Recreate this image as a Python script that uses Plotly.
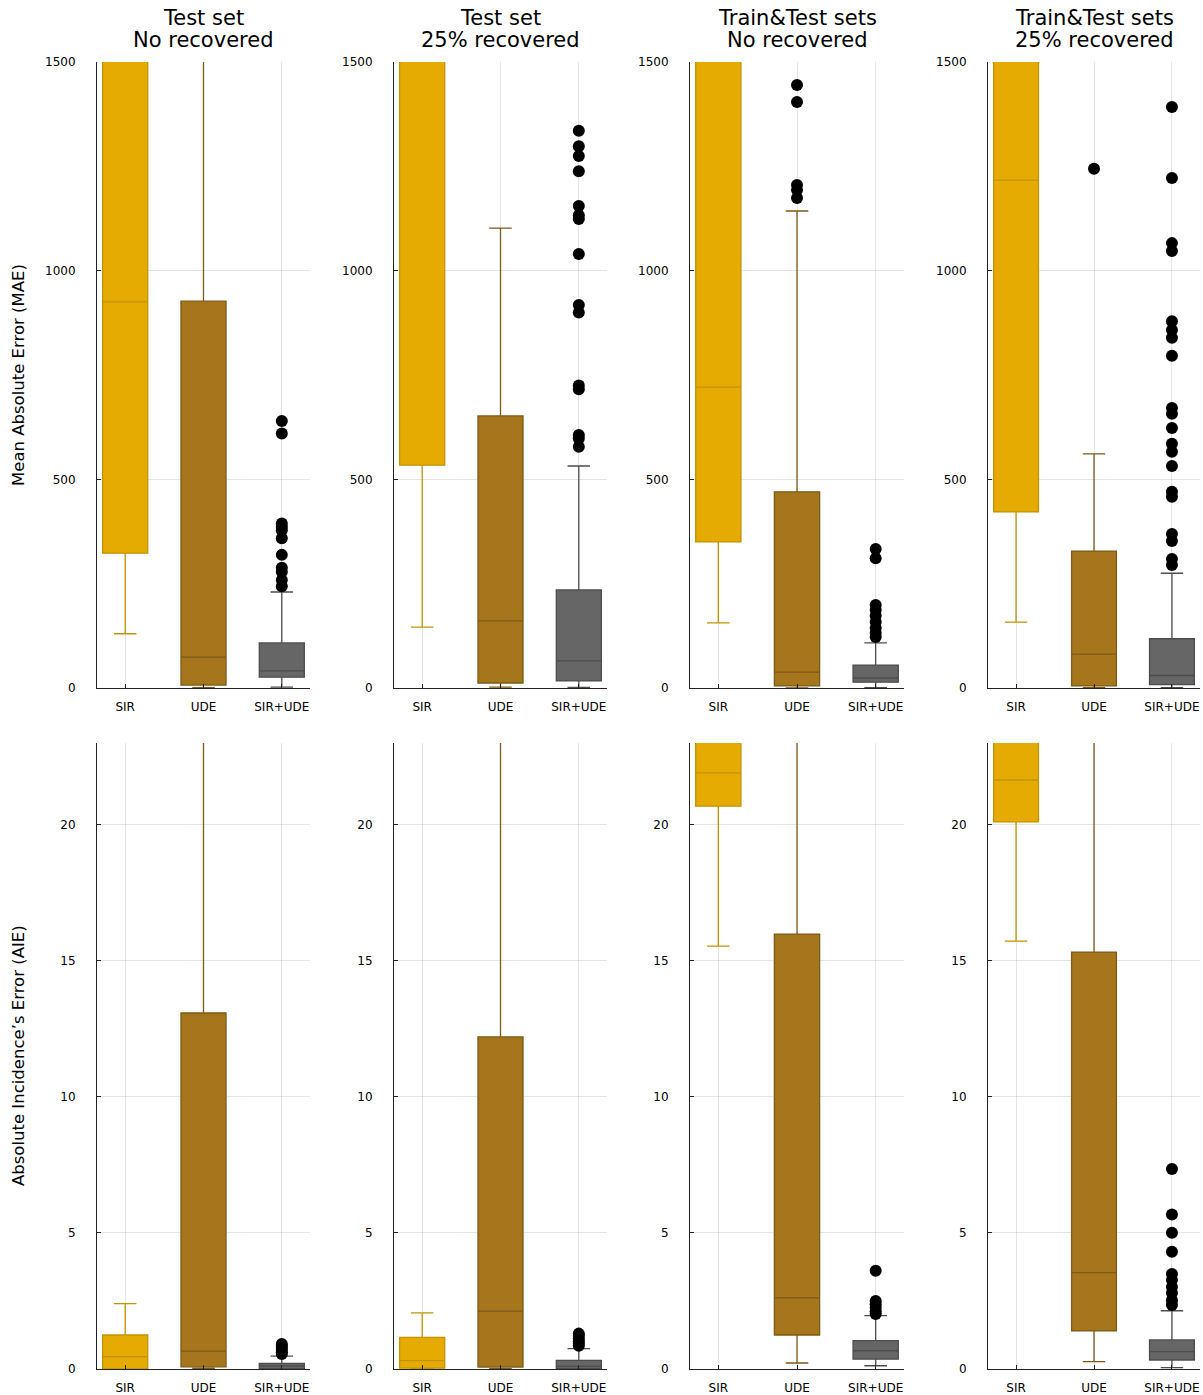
import plotly.graph_objects as go
from plotly.subplots import make_subplots

CATEGORIES = ["SIR", "UDE", "SIR+UDE"]
PANEL_TITLES = [("Test set", "No recovered"), ("Test set", "25% recovered"),
                ("Train&Test sets", "No recovered"), ("Train&Test sets", "25% recovered")]
ROW_TITLES = ["Mean Absolute Error (MAE)", "Absolute Incidence’s Error (AIE)"]

# ---- MAE (top row): per panel, values for [SIR, UDE, SIR+UDE]
MAE_Q1 = [[323, 7, 26], [534, 12, 17], [350, 5, 14], [422, 5, 8]]
MAE_MED = [[925, 74, 41], [2100, 161, 65], [721, 38, 24], [1217, 81, 30]]
MAE_Q3 = [[2400, 927, 108], [3200, 652, 235], [2200, 470, 55], [2600, 328, 118]]
MAE_LO = [[130, 1, 2], [146, 2, 1.5], [156, 0.5, 1], [158, 1, 1]]
MAE_HI = [[4500, 2600, 230], [5500, 1102, 532], [4200, 1143, 108], [5000, 561, 275]]
MAE_OUT_UDE = [[], [], [1445, 1404, 1205, 1193, 1174], [1244]]
MAE_OUT_SIRUDE = [
    [640, 610, 394, 386, 378, 359, 319, 288, 278, 259, 244],
    [1335, 1298, 1275, 1238, 1155, 1133, 1124, 1040, 918, 900, 725, 716, 606, 598, 578],
    [333, 311, 199, 187, 173, 158, 144, 132, 122],
    [1392, 1222, 1066, 1047, 879, 858, 839, 796, 671, 657, 623, 585, 566, 532, 470, 458,
     369, 352, 309, 295],
]

# ---- AIE (bottom row)
AIE_Q1 = [[0.0, 0.08, 0.01], [0.03, 0.07, 0.01], [20.68, 1.25, 0.36], [20.1, 1.40, 0.33]]
AIE_MED = [[0.45, 0.66, 0.11], [0.31, 2.13, 0.10], [21.9, 2.61, 0.67], [21.64, 3.54, 0.64]]
AIE_Q3 = [[1.25, 13.08, 0.21], [1.16, 12.2, 0.32], [26, 15.98, 1.04], [25, 15.32, 1.07]]
AIE_LO = [[0.0, 0.02, 0.0], [0.0, 0.01, 0.0], [15.54, 0.22, 0.12], [15.72, 0.27, 0.05]]
AIE_HI = [[2.40, 30, 0.47], [2.06, 30, 0.75], [35, 32, 1.96], [34, 31, 2.14]]
AIE_OUT_UDE = [[], [], [], []]
AIE_OUT_SIRUDE = [
    [0.92, 0.85, 0.78, 0.70, 0.62, 0.55],
    [1.30, 1.22, 1.12, 1.02, 0.93, 0.85],
    [3.61, 2.50, 2.38, 2.25, 2.12, 2.02],
    [7.35, 5.68, 5.01, 4.31, 3.49, 3.27, 3.01, 2.79, 2.53, 2.35],
]

Y_RANGES = [[0, 1500], [0, 23]]
Y_TICKS = [[0, 500, 1000, 1500], [0, 5, 10, 15, 20]]

FILL = ["#e6ab02", "#a6761d", "#666666"]
EDGE = ["#c49300", "#7d5a16", "#4d4d4d"]

FONT = "DejaVu Sans"
W, H = 1203, 1395
X_DOM_PX = [(97, 310), (394, 607), (690, 904), (988, 1200)]
Y_DOM_PX = [(62, 688), (743, 1369)]


def fx(px):
    return px / W


def fy(py):
    return 1 - py / H


fig = make_subplots(rows=2, cols=4)

rows_data = [
    (MAE_Q1, MAE_MED, MAE_Q3, MAE_LO, MAE_HI, MAE_OUT_UDE, MAE_OUT_SIRUDE),
    (AIE_Q1, AIE_MED, AIE_Q3, AIE_LO, AIE_HI, AIE_OUT_UDE, AIE_OUT_SIRUDE),
]

for r, (Q1, MED, Q3, LO, HI, OU, OS) in enumerate(rows_data):
    for c in range(4):
        for k, cat in enumerate(CATEGORIES):
            fig.add_trace(go.Box(
                x=[cat], q1=[Q1[c][k]], median=[MED[c][k]], q3=[Q3[c][k]],
                lowerfence=[LO[c][k]], upperfence=[HI[c][k]],
                fillcolor=FILL[k], line=dict(color=EDGE[k], width=1.3),
                width=0.575, whiskerwidth=0.5, boxpoints=False, showlegend=False,
            ), row=r + 1, col=c + 1)
        for k, outs in ((1, OU[c]), (2, OS[c])):
            if outs:
                fig.add_trace(go.Scatter(
                    x=[CATEGORIES[k]] * len(outs), y=outs, mode="markers",
                    marker=dict(color="black", size=12, line=dict(width=0)),
                    showlegend=False, cliponaxis=True,
                ), row=r + 1, col=c + 1)

for r in range(2):
    for c in range(4):
        x0, x1 = X_DOM_PX[c]
        y0, y1 = Y_DOM_PX[r]
        fig.update_xaxes(
            domain=[fx(x0), fx(x1)], type="category", categoryorder="array",
            categoryarray=CATEGORIES, range=[-0.36, 2.36], automargin=False,
            showline=True, linecolor="#222", linewidth=1, mirror=False,
            ticks="inside", ticklen=4, tickcolor="#222", ticklabelstandoff=8,
            showgrid=True, gridcolor="rgba(0,0,0,0.1)", gridwidth=1,
            tickfont=dict(family=FONT, size=12, color="black"), zeroline=False,
            row=r + 1, col=c + 1)
        fig.update_yaxes(
            domain=[fy(y1), fy(y0)], range=Y_RANGES[r], automargin=False,
            tickvals=Y_TICKS[r], ticktext=[str(t) for t in Y_TICKS[r]],
            showline=True, linecolor="#222", linewidth=1, mirror=False,
            ticks="inside", ticklen=4, tickcolor="#222", ticklabelstandoff=18,
            showgrid=True, gridcolor="rgba(0,0,0,0.1)", gridwidth=1,
            tickfont=dict(family=FONT, size=12, color="black"), zeroline=False,
            row=r + 1, col=c + 1)

annotations = []
for c, (t1, t2) in enumerate(PANEL_TITLES):
    x0, x1 = X_DOM_PX[c]
    for t, yc in ((t1, 18), (t2, 40)):
        annotations.append(dict(
            text=t, x=fx((x0 + x1) / 2), y=fy(yc), xref="paper", yref="paper",
            xanchor="center", yanchor="middle", showarrow=False,
            font=dict(family=FONT, size=21, color="black")))
for r, t in enumerate(ROW_TITLES):
    y0, y1 = Y_DOM_PX[r]
    annotations.append(dict(
        text=t, x=fx(18), y=fy((y0 + y1) / 2), xref="paper", yref="paper",
        xanchor="center", yanchor="middle", textangle=-90, showarrow=False,
        font=dict(family=FONT, size=16.5, color="black")))

fig.update_layout(
    width=W, height=H, margin=dict(l=0, r=0, t=0, b=0),
    paper_bgcolor="white", plot_bgcolor="white",
    annotations=annotations, font=dict(family=FONT),
)

fig.write_html(
    "out.html",
    config={"displayModeBar": False},
    post_script="document.body.style.margin='0';document.body.style.overflow='hidden';",
)
